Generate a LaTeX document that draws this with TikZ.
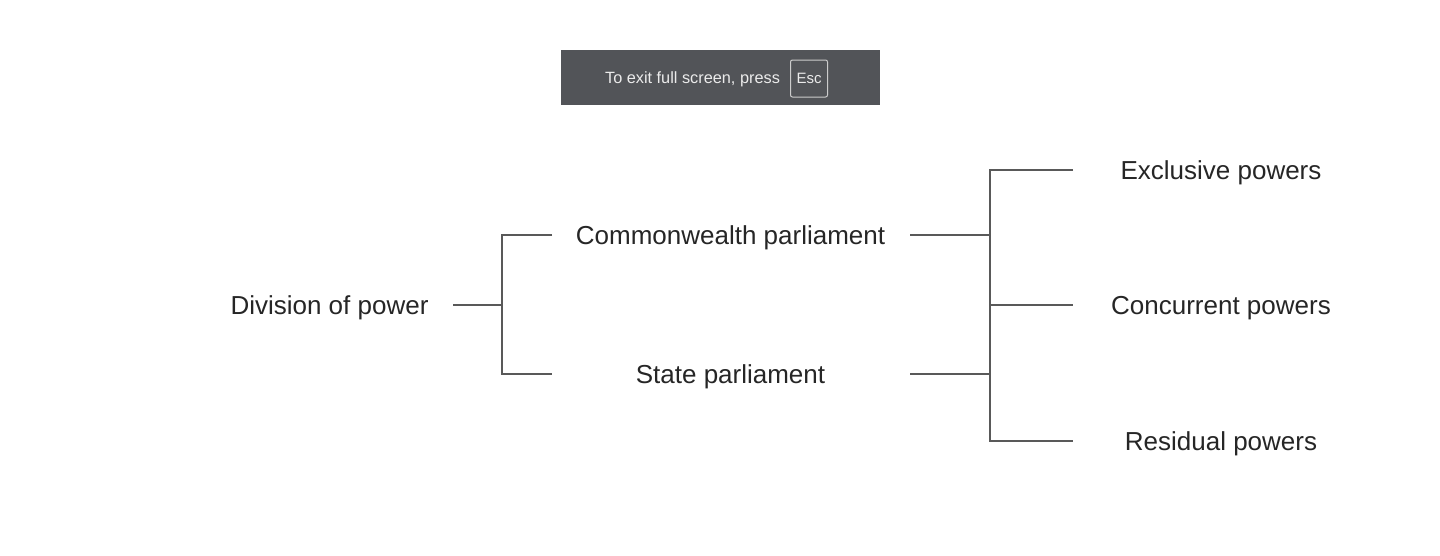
\documentclass[tikz,border=0pt]{standalone}
\usepackage{fontspec}
\setmainfont{Liberation Sans}
\begin{document}
\begin{tikzpicture}[x=1pt,y=-1pt,
  lbl/.style={font=\fontsize{26}{30}\selectfont, text=black!85, inner sep=0pt},
  conn/.style={draw=black!65, line width=2pt},
]
\useasboundingbox[fill=white] (0,0) rectangle (1440,555);
% full-screen banner
\fill[fill={rgb,255:red,82;green,84;blue,88}] (561,50) rectangle (880,105);
\node[font=\fontsize{16.3}{19}\selectfont, text=white!92!black, inner sep=0pt] (bantext) at (692.5,79) {To exit full screen, press};
\node[draw=white!80!black, line width=1pt, rounded corners=2pt, minimum width=37pt, minimum height=37pt, inner sep=0pt, font=\fontsize{15}{18}\selectfont, text=white!92!black] (esc) at (809,78.5) {Esc};
% labels
\node[lbl] (root) at (329.5,308) {Division of power};
\node[lbl] (cw) at (730.5,238) {Commonwealth parliament};
\node[lbl] (st) at (730.5,377) {State parliament};
\node[lbl] (ex) at (1221,173) {Exclusive powers};
\node[lbl] (cc) at (1221,308) {Concurrent powers};
\node[lbl] (rs) at (1221,444) {Residual powers};
% connector coordinates
\coordinate (r0) at (453,305);
\coordinate (r1) at (502,305);
\coordinate (cwin) at (552,235);
\coordinate (stin) at (552,374);
\coordinate (cwout) at (910,235);
\coordinate (stout) at (910,374);
\coordinate (exin) at (1073,170);
\coordinate (ccin) at (1073,305);
\coordinate (rsin) at (1073,441);
% left bracket
\draw[conn] (r0) -- (r1);
\draw[conn] (cwin) -- (cwin -| r1) -- (stin -| r1) -- (stin);
% right bracket
\draw[conn] (cwout) -- (990,235);
\draw[conn] (stout) -- (990,374);
\draw[conn] (exin) -- (990,170) -- (990,441) -- (rsin);
\draw[conn] (990,305) -- (ccin);
\end{tikzpicture}
\end{document}
